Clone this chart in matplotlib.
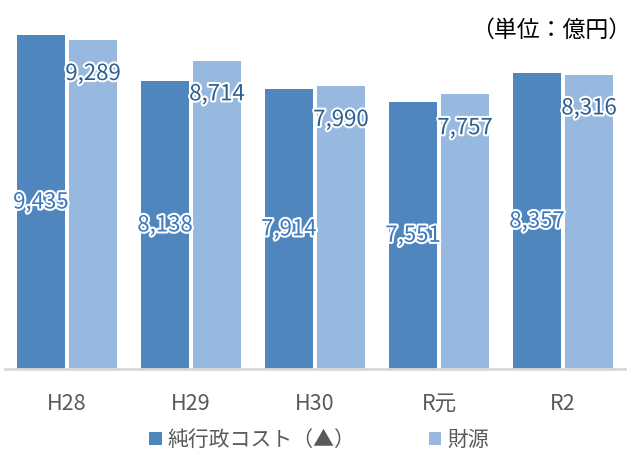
import matplotlib.pyplot as plt
import matplotlib.patheffects as pe
import numpy as np

plt.rcParams['font.family'] = ['Noto Sans CJK JP', 'DejaVu Sans']

years = ['H28', 'H29', 'H30', 'R元', 'R2']
cost = [9435, 8138, 7914, 7551, 8357]      # 純行政コスト（▲）
source = [9289, 8714, 7990, 7757, 8316]    # 財源

c_dark = '#4F86BD'
c_light = '#97B9E0'
grey = '#595959'

fig = plt.figure(figsize=(6.32, 4.55), dpi=100)
ax = fig.add_axes([5/632, 86/455, 620/632, 354/455])

x = np.arange(len(years))
w = 0.39
off = 0.21
b1 = ax.bar(x - off, cost, w, color=c_dark, label='純行政コスト（▲）')
b2 = ax.bar(x + off, source, w, color=c_light, label='財源')

glow = [pe.withStroke(linewidth=3, foreground='white')]
for xi, v in zip(x, cost):
    ax.text(xi - off, v / 2, f'{v:,}', ha='center', va='center',
            fontsize=16, color='#3A78C0', path_effects=glow)
for xi, v in zip(x, source):
    ax.annotate(f'{v:,}', (xi + off, v), xytext=(0, -24), textcoords='offset points',
                ha='center', va='center', fontsize=16, color='#2C5E8E', path_effects=glow)

ax.set_xlim(-0.5, 4.5)
ax.set_ylim(0, 10000)
ax.set_xticks(x)
ax.set_xticklabels(years, fontsize=15.5, color=grey)
ax.tick_params(axis='x', length=0, pad=17)
ax.set_yticks([])
for s in ['top', 'left', 'right']:
    ax.spines[s].set_visible(False)
ax.spines['bottom'].set_color('#D9D9D9')
ax.spines['bottom'].set_linewidth(2)

fig.text(631/632, 1 - 30/455, '（単位：億円）', ha='right', va='center', fontsize=16.5, color='black')

fig.legend(handles=[b1, b2], loc='center', bbox_to_anchor=(0.505, 1 - 440/455), ncol=2,
           frameon=False, fontsize=15, labelcolor=grey, handlelength=0.6, handleheight=0.6,
           handletextpad=0.3, columnspacing=3.5)

fig.savefig('out.png', dpi=100)
